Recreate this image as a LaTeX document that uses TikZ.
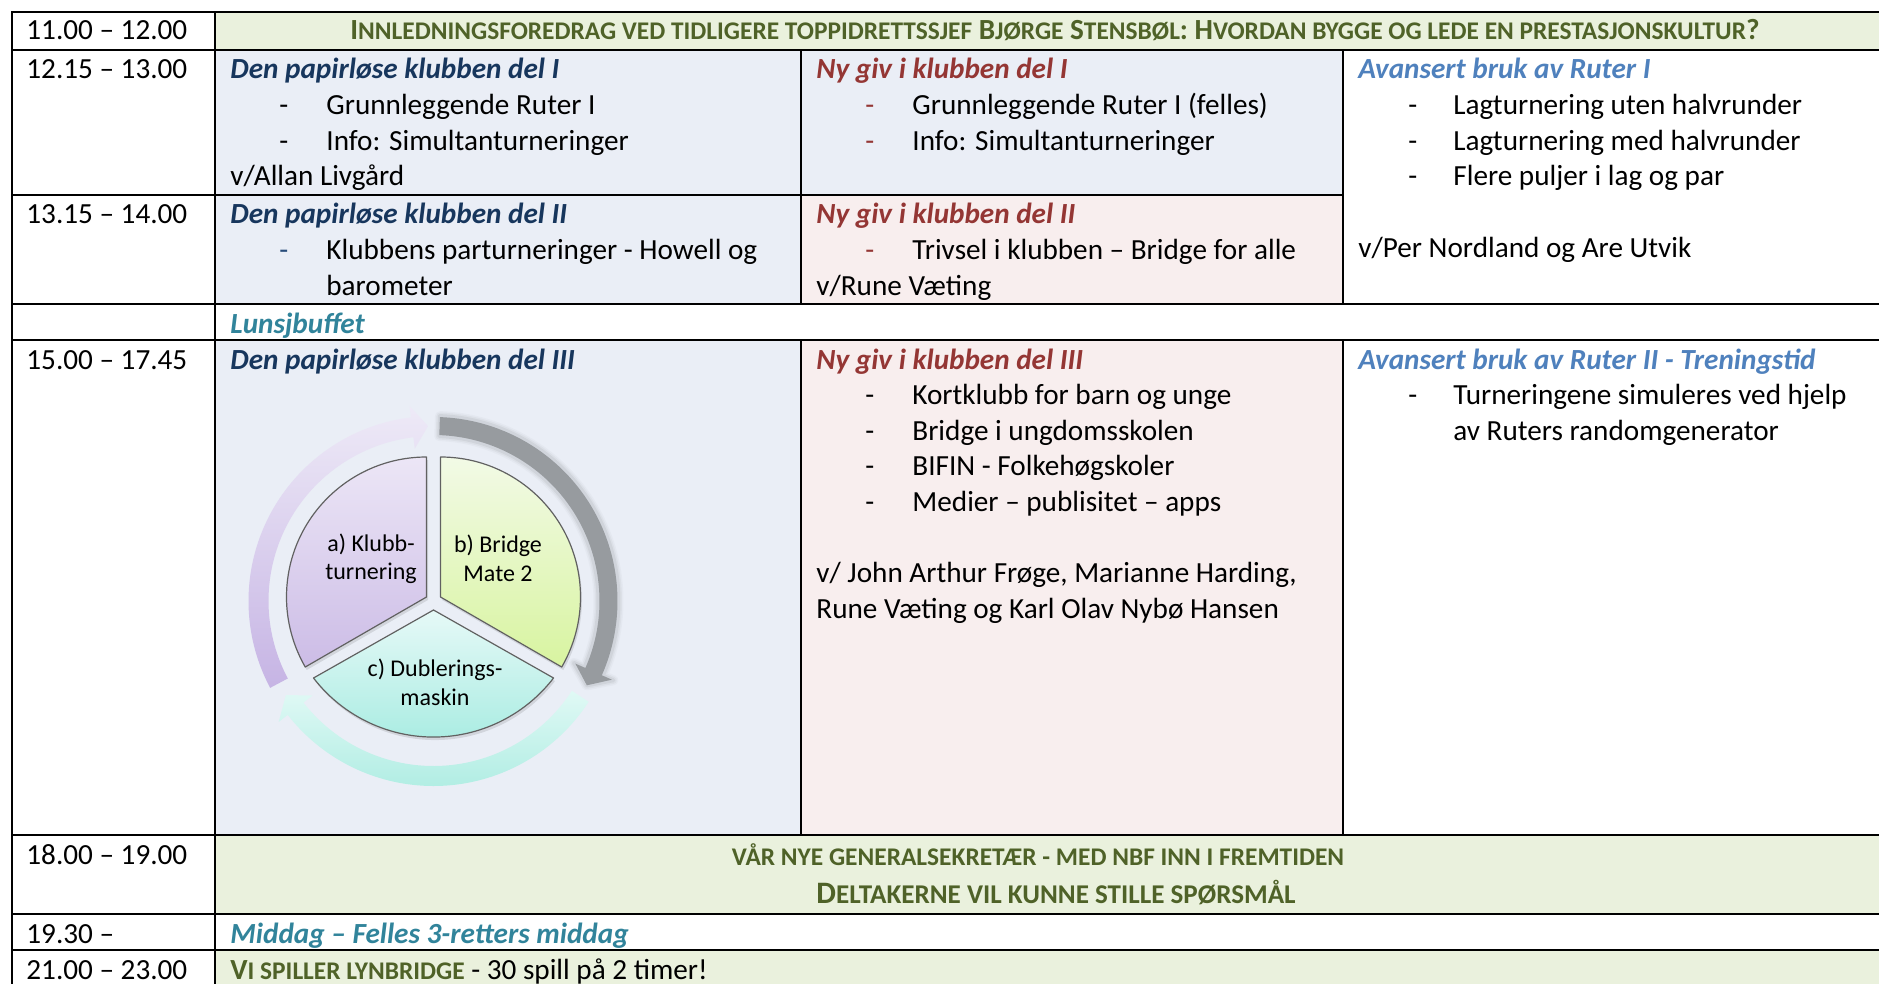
\documentclass[tikz,border=0pt]{standalone}
\usepackage{fontspec}
\setmainfont{Carlito}
\definecolor{navy}{HTML}{17365D}
\definecolor{dred}{HTML}{943634}
\definecolor{lblue}{HTML}{4F81BD}
\definecolor{teal1}{HTML}{31849B}
\definecolor{olive}{HTML}{4F6228}
\definecolor{fblue}{HTML}{EAEEF6}
\definecolor{fpink}{HTML}{F8EEEE}
\definecolor{fgreen}{HTML}{EAF1DD}
\definecolor{grayA}{HTML}{8E9297}
\definecolor{purT}{RGB}{238,234,247}
\definecolor{purB}{RGB}{198,180,228}
\definecolor{tealT}{RGB}{224,249,245}
\definecolor{tealB}{RGB}{176,237,227}
\newcommand\fs{\fontsize{14.6}{17.8}\selectfont}
\newcommand\smc[1]{{\fontsize{12.7}{13}\selectfont #1}}
\newcommand\sme[1]{{\fontsize{13.55}{14}\selectfont #1}}
\begin{document}
\begin{tikzpicture}[x=0.5pt,y=-0.5pt,
  txt/.style={inner sep=0pt, anchor=base west, font=\fs, text=black},
  hdn/.style={txt, font=\fs\bfseries\itshape, text=navy},
  hdr/.style={txt, font=\fs\bfseries\itshape, text=dred},
  hdb/.style={txt, font=\fs\bfseries\itshape, text=lblue},
  hdt/.style={txt, font=\fs\bfseries\itshape, text=teal1},
  ttl/.style={inner sep=0pt, anchor=base, font=\fs\bfseries, text=olive},
  tline/.style={line width=1.1pt, draw=black, line cap=rect},
  diag/.style={inner sep=0pt, align=center, font=\fontsize{12}{14.4}\selectfont, text=black},
  sect/.style={draw=black!62, line width=0.6pt, line join=round},
]
\useasboundingbox (0,0) rectangle (1879,984);
\clip (0,0) rectangle (1879,984);
\fill[white] (0,0) rectangle (1879,984);
% fills
\fill[fgreen] (215,12) rectangle (1895,50);
\fill[fblue] (215,50) rectangle (1343,195);
\fill[fblue] (215,195) rectangle (801,304);
\fill[fpink] (801,195) rectangle (1343,304);
\fill[fblue] (215,340) rectangle (801,835);
\fill[fpink] (801,340) rectangle (1343,835);
\fill[fgreen] (215,835) rectangle (1895,914);
\fill[fgreen] (215,950) rectangle (1895,1000);
% lines
\foreach \yy in {12,50,304,340,835,914,950} \draw[tline] (12,\yy) -- (1895,\yy);
\draw[tline] (12,195) -- (1343,195);
\draw[tline] (12,12) -- (12,1000);
\draw[tline] (215,12) -- (215,1000);
\foreach \xx in {801,1343} {\draw[tline] (\xx,50) -- (\xx,304); \draw[tline] (\xx,340) -- (\xx,835);}
% times
\node[txt] (t1) at (26,40) {11.00 – 12.00};
\node[txt] (t2) at (26,79) {12.15 – 13.00};
\node[txt] (t3) at (26,224) {13.15 – 14.00};
\node[txt] (t5) at (26,369) {15.00 – 17.45};
\node[txt] (t6) at (26,864) {18.00 – 19.00};
\node[txt] (t7) at (26,943) {19.30 –};
\node[txt] (t8) at (26,979) {21.00 – 23.00};
% title row
\node[ttl] (title) at (1055,40) {I\smc{NNLEDNINGSFOREDRAG VED TIDLIGERE TOPPIDRETTSSJEF} B\smc{JØRGE} S\smc{TENSBØL}: H\smc{VORDAN BYGGE OG LEDE EN PRESTASJONSKULTUR}?};
% row 2 col 2
\node[hdn] (h21) at (230,79) {Den papirløse klubben del I};
\node[txt] (d211) at (279,114.6) {-};
\node[txt] (i211) at (326,114.6) {Grunnleggende Ruter I};
\node[txt] (d212) at (279,150.2) {-};
\node[txt] (i212) at (326,150.2) {Info: Simultanturneringer};
\node[txt] (v21) at (230,185.8) {v/Allan Livgård};
% row 2 col 3
\node[hdr] (h22) at (816,79) {Ny giv i klubben del I};
\node[txt, text=dred] (d221) at (865,114.6) {-};
\node[txt] (i221) at (912,114.6) {Grunnleggende Ruter I (felles)};
\node[txt, text=dred] (d222) at (865,150.2) {-};
\node[txt] (i222) at (912,150.2) {Info: Simultanturneringer};
% row 2 col 4
\node[hdb] (h23) at (1358,79) {Avansert bruk av Ruter I};
\node[txt] (d231) at (1408,114.6) {-};
\node[txt] (i231) at (1453,114.6) {Lagturnering uten halvrunder};
\node[txt] (d232) at (1408,150.2) {-};
\node[txt] (i232) at (1453,150.2) {Lagturnering med halvrunder};
\node[txt] (d233) at (1408,185.8) {-};
\node[txt] (i233) at (1453,185.8) {Flere puljer i lag og par};
\node[txt] (v23) at (1358,257) {v/Per Nordland og Are Utvik};
% row 3
\node[hdn] (h31) at (230,224) {Den papirløse klubben del II};
\node[txt, text=navy!70!lblue] (d311) at (279,259.6) {-};
\node[txt] (i311) at (326,259.6) {Klubbens parturneringer - Howell og};
\node[txt] (i312) at (326,295.2) {barometer};
\node[hdr] (h32) at (816,224) {Ny giv i klubben del II};
\node[txt, text=dred] (d321) at (865,259.6) {-};
\node[txt] (i321) at (912,259.6) {Trivsel i klubben – Bridge for alle};
\node[txt] (v32) at (816,295.2) {v/Rune Væting};
% lunsj
\node[hdt] (lunsj) at (230,333) {Lunsjbuffet};
% row 5
\node[hdn] (h51) at (230,369) {Den papirløse klubben del III};
\node[hdr] (h52) at (816,369) {Ny giv i klubben del III};
\node[txt] (d521) at (865,404.6) {-};
\node[txt] (i521) at (912,404.6) {Kortklubb for barn og unge};
\node[txt] (d522) at (865,440.2) {-};
\node[txt] (i522) at (912,440.2) {Bridge i ungdomsskolen};
\node[txt] (d523) at (865,475.8) {-};
\node[txt] (i523) at (912,475.8) {BIFIN - Folkehøgskoler};
\node[txt] (d524) at (865,511.4) {-};
\node[txt] (i524) at (912,511.4) {Medier – publisitet – apps};
\node[txt] (v521) at (816,582.6) {v/ John Arthur Frøge, Marianne Harding,};
\node[txt] (v522) at (816,618.2) {Rune Væting og Karl Olav Nybø Hansen};
\node[hdb] (h53) at (1358,369) {Avansert bruk av Ruter II - Treningstid};
\node[txt] (d531) at (1408,404.6) {-};
\node[txt] (i531) at (1453,404.6) {Turneringene simuleres ved hjelp};
\node[txt] (i532) at (1453,440.2) {av Ruters randomgenerator};
% row 6
\node[ttl] (g1) at (1038,865) {\smc{VÅR NYE GENERALSEKRETÆR - MED NBF INN I FREMTIDEN}};
\node[ttl, font=\fontsize{15.6}{16}\selectfont\bfseries] (g2) at (1056,903) {D\sme{ELTAKERNE VIL KUNNE STILLE SPØRSMÅL}};
% row 7
\node[hdt] (middag) at (230,943) {Middag – Felles 3-retters middag};
% row 8
\node[txt] (lyn) at (230,979) {{\bfseries\color{olive}V\smc{I SPILLER LYNBRIDGE}} - 30 spill på 2 timer!};
% ---------- cycle diagram ----------
\begin{scope}[shift={(433.5,601)}, yscale=-1]
  % arrows
  \path[top color=purT, bottom color=purB, draw=none]
    (208:185) arc[start angle=208,end angle=97,radius=185] -- (97:196.5) -- (91.8:175) -- (97:153.5) -- (97:165) arc[start angle=97,end angle=208,radius=165] -- cycle;
  \foreach \w/\o in {5pt/0.06,3.5pt/0.09,2pt/0.14} {
    \draw[grayA, line width=\w, opacity=\o, line join=round]
      (88:185) arc[start angle=88,end angle=-23.8,radius=185] -- (-23.8:196.5) -- (-28.8:175) -- (-23.8:153.5) -- (-23.8:165) arc[start angle=-23.8,end angle=88,radius=165] -- cycle;
  }
  \fill[grayA!92!white]
      (88:184) arc[start angle=88,end angle=-23.8,radius=184] -- (-23.8:195) -- (-28.8:175) -- (-23.8:155) -- (-23.8:166) arc[start angle=-23.8,end angle=88,radius=166] -- cycle;
  \path[top color=tealT, bottom color=tealB, draw=none]
    (-33:185) arc[start angle=-33,end angle=-142,radius=185] -- (-142:196.5) -- (-147.5:175) -- (-142:153.5) -- (-142:165) arc[start angle=-142,end angle=-33,radius=165] -- cycle;
  % shadows
  \begin{scope}[shift={(1.5,-3)}]
    \fill[black, opacity=0.10] (-7,4) -- (-7,144) arc[start angle=90,end angle=210,radius=140] -- cycle;
    \fill[black, opacity=0.10] (7,4) -- (7,144) arc[start angle=90,end angle=-30,radius=140] -- cycle;
    \fill[black, opacity=0.10] (0,-9) -- (-120,-77) arc[start angle=217.6,end angle=322.4,radius=151.5] -- cycle;
  \end{scope}
  % sectors
  \path[sect, top color={rgb,255:red,236;green,230;blue,246}, bottom color={rgb,255:red,204;green,188;blue,230}]
    (-7,4) -- (-7,144) arc[start angle=90,end angle=210,radius=140] -- cycle;
  \path[sect, top color={rgb,255:red,242;green,250;blue,230}, bottom color={rgb,255:red,216;green,244;blue,160}]
    (7,4) -- (7,144) arc[start angle=90,end angle=-30,radius=140] -- cycle;
  \path[sect, top color={rgb,255:red,230;green,249;blue,247}, bottom color={rgb,255:red,169;green,236;blue,226}]
    (0,-9) -- (-120,-77) arc[start angle=217.6,end angle=322.4,radius=151.5] -- cycle;
  \node[diag] (sa) at (-62.5,42.3) {a) Klubb-\\turnering};
  \node[diag] (sb) at (64.5,42.3) {b) Bridge\\Mate 2};
  \node[diag] (sc) at (1.5,-81.3) {c) Dublerings-\\maskin};
\end{scope}
\end{tikzpicture}
\end{document}
